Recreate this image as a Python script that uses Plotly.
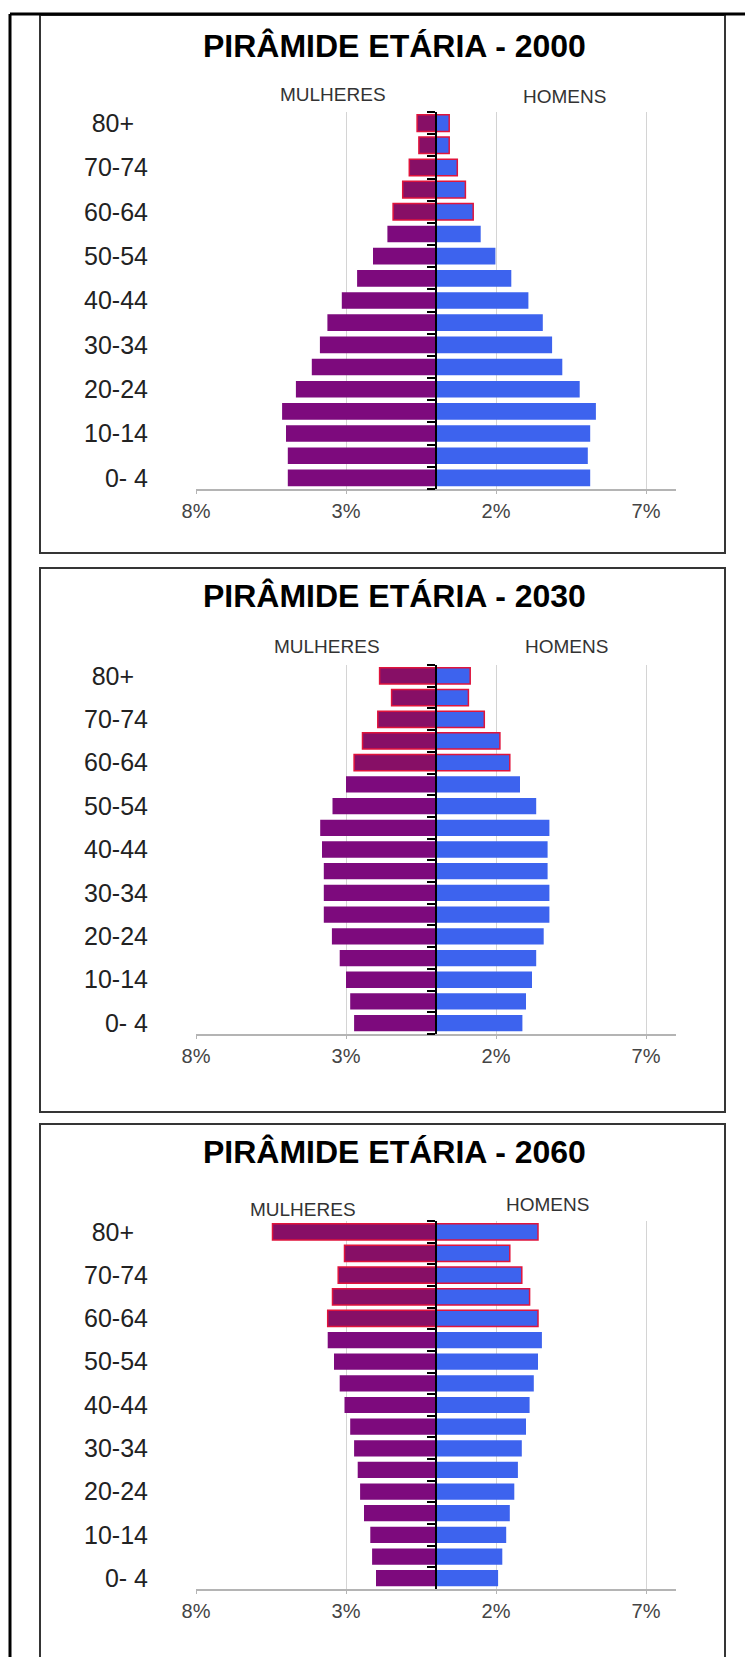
import plotly.graph_objects as go

W, H = 745, 1657

# ---------------- data ----------------
age_groups = ["0- 4", "5-9", "10-14", "15-19", "20-24", "25-29", "30-34", "35-39",
              "40-44", "45-49", "50-54", "55-59", "60-64", "65-69", "70-74", "75-79", "80+"]
shown_labels = ["0- 4", "10-14", "20-24", "30-34", "40-44", "50-54", "60-64", "70-74", "80+"]
shown_text = ["0- 4", "10-14", "20-24", "30-34", "40-44", "50-54", "60-64", "70-74", "80+\u00a0\u00a0"]
elderly_groups = ["60-64", "65-69", "70-74", "75-79", "80+"]

years = ["2000", "2030", "2060"]

women_2000 = [4.94, 4.94, 5.00, 5.13, 4.67, 4.14, 3.87, 3.62, 3.14, 2.63, 2.10, 1.62, 1.43, 1.11, 0.89, 0.57, 0.63]
men_2000 = [5.14, 5.06, 5.14, 5.33, 4.79, 4.21, 3.87, 3.56, 3.08, 2.51, 1.98, 1.49, 1.24, 0.98, 0.71, 0.44, 0.44]

women_2030 = [2.73, 2.86, 3.00, 3.21, 3.47, 3.74, 3.74, 3.74, 3.80, 3.86, 3.45, 3.00, 2.73, 2.45, 1.94, 1.48, 1.88]
men_2030 = [2.88, 3.00, 3.20, 3.34, 3.59, 3.78, 3.78, 3.72, 3.72, 3.78, 3.34, 2.80, 2.46, 2.13, 1.61, 1.08, 1.14]

women_2060 = [2.00, 2.13, 2.19, 2.40, 2.53, 2.61, 2.73, 2.86, 3.05, 3.21, 3.40, 3.61, 3.61, 3.45, 3.26, 3.05, 5.45]
men_2060 = [2.07, 2.21, 2.34, 2.46, 2.61, 2.73, 2.86, 3.00, 3.12, 3.26, 3.40, 3.53, 3.40, 3.12, 2.86, 2.46, 3.40]

women_series = [women_2000, women_2030, women_2060]
men_series = [men_2000, men_2030, men_2060]

x_range = [-8, 8]
x_tickvals = [-8, -3, 2, 7]
x_ticktext = ["8%", "3%", "2%", "7%"]

# ---------------- styles / layout (pixels) ----------------
FONT = "Liberation Sans, Arial, sans-serif"
WOMEN = "#7D0A7D"
WOMEN_OLD = "#870F66"
MEN = "#3D63EE"
RED = "#E0143C"

panel_tops = [15, 568, 1124]
panel_bottoms = [553, 1112, 1720]
title_off = [31, 28, 28]
plot_top_off = 97
plot_bot_off = [474, 466, 465]
x_px = [196, 676]
title_x = 394
mulheres_pos = [(333, 79), (327, 78), (303, 85)]
homens_pos = [(564, 82), (566, 78), (547, 80)]


def px(x):
    return x / W


def py(y):
    return 1 - y / H


fig = go.Figure()
layout = dict(
    width=W, height=H, margin=dict(l=0, r=0, t=0, b=0, autoexpand=False),
    paper_bgcolor="white", plot_bgcolor="white",
    showlegend=False, barmode="overlay", bargap=0.25,
    font=dict(family=FONT, color="#222"),
)
annotations = []
shapes = []

xd = [px(x_px[0]), px(x_px[1])]
center_pos = xd[0] + (0 - x_range[0]) / (x_range[1] - x_range[0]) * (xd[1] - xd[0])

for i in range(3):
    n = i + 1
    ov = i + 4
    top = panel_tops[i]
    yd = [py(top + plot_bot_off[i]), py(top + plot_top_off)]
    w = women_series[i]
    m = men_series[i]
    old = [g in elderly_groups for g in age_groups]

    fig.add_trace(go.Bar(
        y=age_groups, x=[-v for v in w], orientation="h",
        xaxis=f"x{n}", yaxis=f"y{n}", name="Mulheres",
        customdata=w, hovertemplate="%{y}: %{customdata}%<extra>Mulheres</extra>",
        marker=dict(color=[WOMEN_OLD if o else WOMEN for o in old],
                    line=dict(color=[RED if o else "rgba(0,0,0,0)" for o in old],
                              width=[1.5 if o else 0 for o in old])),
    ))
    fig.add_trace(go.Bar(
        y=age_groups, x=m, orientation="h",
        xaxis=f"x{n}", yaxis=f"y{ov}", name="Homens",
        hovertemplate="%{y}: %{x}%<extra>Homens</extra>",
        marker=dict(color=MEN,
                    line=dict(color=[RED if o else "rgba(0,0,0,0)" for o in old],
                              width=[1.5 if o else 0 for o in old])),
    ))

    layout[f"xaxis{n}"] = dict(
        domain=xd, anchor=f"y{n}", range=x_range, automargin=False,
        tickmode="array", tickvals=x_tickvals, ticktext=x_ticktext,
        showgrid=True, gridcolor="#d4d4d4", gridwidth=1, zeroline=False,
        showline=True, linecolor="#b4b4b4", linewidth=1.5,
        ticks="outside", ticklen=3, tickcolor="#b4b4b4",
        ticklabelstandoff=0,
        tickfont=dict(size=20, color="#444", family=FONT),
        fixedrange=True,
    )
    layout[f"yaxis{n}"] = dict(
        domain=yd, anchor=f"x{n}", type="category", automargin=False,
        categoryorder="array", categoryarray=age_groups,
        range=[-0.5, len(age_groups) - 0.5],
        tickmode="array", tickvals=shown_labels, ticktext=shown_text,
        showgrid=False, zeroline=False, showline=False, ticks="",
        ticklabelstandoff=47,
        tickfont=dict(size=25, color="#222", family=FONT),
        fixedrange=True,
    )
    layout[f"yaxis{ov}"] = dict(
        overlaying=f"y{n}", anchor="free", position=center_pos, side="left",
        type="category", categoryorder="array", categoryarray=age_groups,
        range=[-0.5, len(age_groups) - 0.5], automargin=False,
        showgrid=False, zeroline=False, showticklabels=False,
        showline=True, linecolor="black", linewidth=2,
        ticks="outside", tickson="boundaries", ticklen=8, tickcolor="black", tickwidth=1.5,
        fixedrange=True,
    )

    annotations.append(dict(
        text=f"<b>PIRÂMIDE ETÁRIA - {years[i]}</b>", x=px(title_x), y=py(top + title_off[i]),
        xref="paper", yref="paper", xanchor="center", yanchor="middle", showarrow=False,
        font=dict(size=32, color="black", family=FONT),
    ))
    mx, my = mulheres_pos[i]
    annotations.append(dict(
        text="MULHERES", x=px(mx), y=py(top + my), xref="paper", yref="paper",
        xanchor="center", yanchor="middle", showarrow=False,
        font=dict(size=19, color="#333", family=FONT),
    ))
    hx, hy = homens_pos[i]
    annotations.append(dict(
        text="HOMENS", x=px(hx), y=py(top + hy), xref="paper", yref="paper",
        xanchor="center", yanchor="middle", showarrow=False,
        font=dict(size=19, color="#333", family=FONT),
    ))

    shapes.append(dict(
        type="rect", xref="paper", yref="paper",
        x0=px(40), x1=px(725), y0=py(panel_bottoms[i]), y1=py(top),
        line=dict(color="#353535", width=2), fillcolor="rgba(0,0,0,0)", layer="below",
    ))

# outer frame (top and left edges)
shapes.append(dict(type="line", xref="paper", yref="paper",
                   x0=px(10), x1=px(745), y0=py(14), y1=py(14),
                   line=dict(color="black", width=3)))
shapes.append(dict(type="line", xref="paper", yref="paper",
                   x0=px(10), x1=px(10), y0=py(14), y1=py(1657),
                   line=dict(color="black", width=3)))

layout["annotations"] = annotations
layout["shapes"] = shapes
fig.update_layout(**layout)

fig.write_html("out.html")
